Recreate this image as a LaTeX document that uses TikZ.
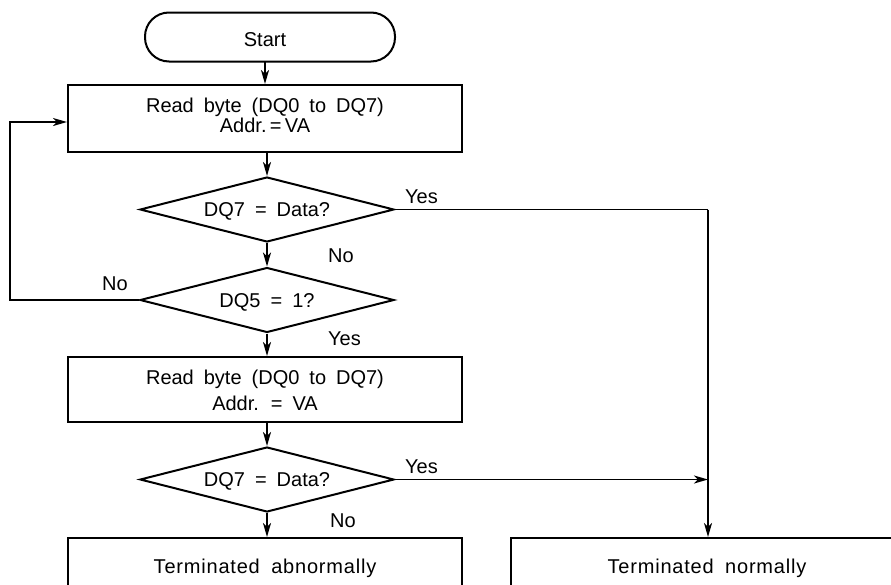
\documentclass[tikz,border=0pt]{standalone}
\usepackage{fontspec}
\setmainfont{Liberation Sans}[WordSpace={1.8,0.3,0.3}]
\usetikzlibrary{shapes.geometric,arrows.meta}
\begin{document}
\begin{tikzpicture}[x=1pt,y=-1pt,
  every node/.style={font=\fontsize{20}{22}\selectfont},
  flow/.style={line width=1.8pt},
  arr/.style={flow,-{Stealth[length=14pt,width=8pt,inset=4pt]}},
  procbox/.style={draw,line width=2pt,minimum width=394pt,minimum height=67pt,inner sep=0pt},
  endbox/.style={draw,line width=2pt,minimum width=394pt,minimum height=90pt,inner sep=0pt,anchor=north},
  decision/.style={draw,diamond,aspect=3.9,line width=2pt,minimum width=254pt,minimum height=65pt,inner sep=0pt},
  txt/.style={inner sep=0pt,anchor=base},
  wide/.style={font=\fontsize{20}{22}\selectfont\addfontfeatures{LetterSpace=4}},
  lbl/.style={inner sep=0pt,anchor=base west}]
\useasboundingbox (0,0) rectangle (891,584);
\clip (0,0) rectangle (891,584);

% terminator
\node[draw,line width=2pt,rounded corners=24pt,minimum width=250pt,minimum height=49pt,inner sep=0pt] (start) at (270,37) {};
\node[txt] at (265,46.5) {Start};
\coordinate (startout) at (265,61.5);

% first read
\node[procbox] (read1) at (265,118.5) {};
\node[txt] at (265,112.8) {Read byte (DQ0 to DQ7)};
\node[txt] at (265,132) {Addr.\,=\,VA};

% decisions
\node[decision] (d1) at (267,209.5) {};
\node[txt] at (267,216) {DQ7 = Data?};
\node[decision] (d2) at (267,300) {};
\node[txt] at (267,307) {DQ5 = 1?};

% second read
\node[procbox,minimum height=65pt] (read2) at (265,389.5) {};
\node[txt] at (265,384.3) {Read byte (DQ0 to DQ7)};
\node[txt] at (265,410) {Addr. = VA};

\node[decision] (d3) at (267,479.5) {};
\node[txt] at (267,486.5) {DQ7 = Data?};

% results
\node[endbox] (abn) at (265,537) {};
\node[txt,wide] at (265,573) {Terminated abnormally};
\node[endbox,minimum width=420pt,anchor=north west] (nrm) at (510,537) {};
\node[txt,wide] at (707,573) {Terminated normally};

% connectors
\coordinate (rx) at (708,209.5);
\coordinate (lx) at (10,300);
\coordinate (lt) at (10,122);
\draw[arr] (startout) -- (startout |- read1.north);
\draw[arr] (read1.south -| d1.north) -- (d1.north);
\draw[arr] (d1.south) -- (d2.north);
\draw[arr] (d2.south) -- (d2.south |- read2.north);
\draw[arr] (read2.south -| d3.north) -- (d3.north);
\draw[arr] (d3.south) -- (d3.south |- abn.north);
\draw[flow] (d1.east) -- (rx);
\draw[arr] (rx) -- (rx |- nrm.north);
\draw[arr] (d3.east) -- (d3.east -| rx);
\draw[arr] (d2.west) -- (lx) -- (lt) -- (lt -| read1.west);

% branch labels
\node[lbl] at (405,203) {Yes};
\node[lbl] at (328,262) {No};
\node[lbl] at (102,290) {No};
\node[lbl] at (328,345) {Yes};
\node[lbl] at (405,473) {Yes};
\node[lbl] at (330,527) {No};
\end{tikzpicture}
\end{document}
